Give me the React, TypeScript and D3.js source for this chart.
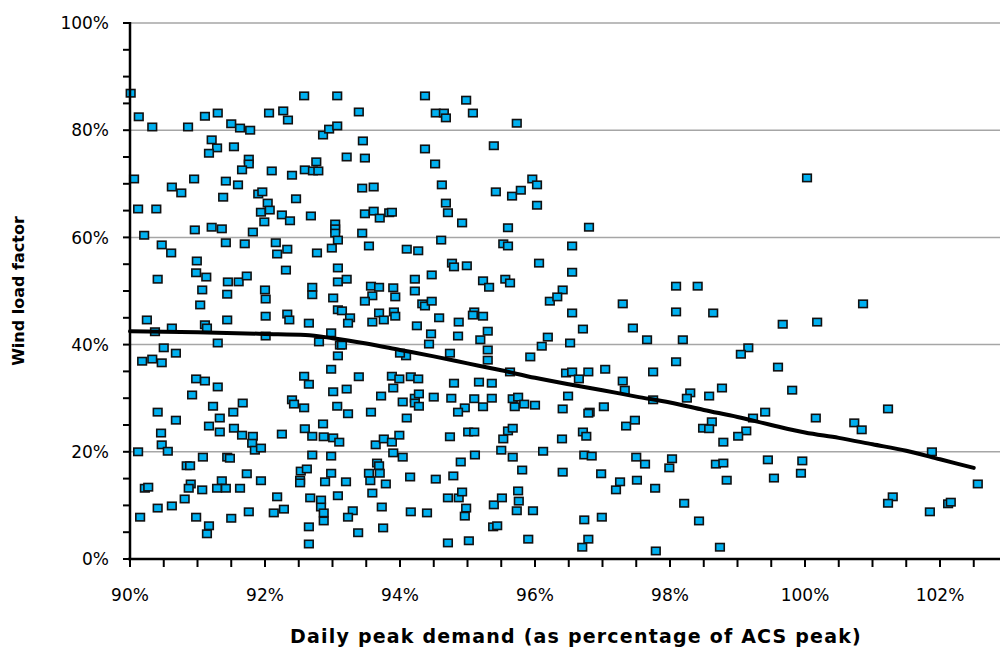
import * as d3 from 'd3';

const width = 1000;
const height = 648;

// axis ticks
const yLabelValues = [0, 20, 40, 60, 80, 100];
const yLabels = ['0%', '20%', '40%', '60%', '80%', '100%'];
const xLabelValues = [90, 92, 94, 96, 98, 100, 102];
const xLabels = ['90%', '92%', '94%', '96%', '98%', '100%', '102%'];

// daily peak demand, % of ACS peak
const demand = [
  90.01, 90.13, 90.33, 90.86, 91.11, 91.3, 91.5, 91.63, 91.78, 92.06, 92.27, 92.34, 92.58, 93.07, 92.86, 92.95,
  93.07, 91.21, 91.29, 91.17, 91.54, 91.76, 91.76, 91.66, 92.1, 92.4, 92.59, 92.76, 92.71, 92.79, 90.06, 90.62,
  90.76, 90.95, 91.42, 91.6, 91.38, 91.9, 91.96, 92.04, 91.94, 92.07, 92.46, 90.12, 90.39, 92.25, 92.37, 92.68,
  91.99, 90.21, 90.96, 91.21, 91.36, 91.82, 93.04, 93.04, 93.04, 93.08, 90.47, 90.61, 91.42, 91.7, 92.16, 92.18,
  92.33, 92.77, 92.99, 90.99, 90.98, 91.13, 90.41, 91.45, 91.61, 91.73, 92.31, 93.08, 93.08, 92.7, 91.07, 92.0,
  92.7, 91.44, 92.01, 93.01, 91.04, 90.25, 91.44, 92.01, 92.33, 92.36, 92.65, 93.08, 90.62, 91.11, 91.14, 90.37,
  92.01, 91.3, 92.8, 92.98, 93.11, 90.5, 90.68, 90.18, 90.33, 90.47, 93.08, 92.98, 90.98, 91.11, 91.3, 92.58,
  92.65, 93.01, 90.92, 91.23, 91.67, 92.4, 92.43, 92.58, 93.07, 90.41, 90.68, 91.33, 91.53, 91.17, 91.33, 91.54,
  91.66, 91.82, 91.81, 91.85, 91.94, 92.25, 92.59, 92.7, 92.86, 92.87, 93.01, 93.1, 90.46, 90.47, 90.56, 90.12,
  91.08, 91.44, 91.48, 92.7, 92.98, 90.84, 90.89, 92.53, 92.62, 92.98, 91.73, 92.52, 92.52, 91.94, 91.36, 90.9,
  90.87, 91.07, 91.29, 91.42, 91.63, 92.89, 90.22, 90.27, 93.08, 92.18, 92.67, 92.83, 92.83, 92.87, 92.87, 90.81,
  90.62, 90.41, 92.28, 92.13, 91.76, 90.15, 90.98, 91.5, 91.17, 91.14, 92.65, 92.65,
  93.39, 94.37, 94.98, 94.53, 94.65, 94.68, 95.08, 95.73, 93.45, 93.21, 93.48, 94.37, 94.52, 95.39, 94.62, 94.68,
  94.71, 94.92, 93.44, 93.61, 93.48, 93.61, 93.7, 93.84, 93.88, 95.42, 95.66, 95.79, 95.96, 96.03, 96.03, 95.6,
  93.44, 93.54, 94.1, 94.27, 94.61, 95.53, 95.6, 93.21, 94.77, 94.8, 94.99, 96.06, 94.22, 94.47, 95.23, 95.32,
  95.56, 95.63, 93.57, 93.69, 93.9, 94.22,
  93.93, 93.59, 93.48, 94.33, 94.37, 94.47, 96.22, 93.14, 93.26, 93.23, 93.69, 93.59, 93.76, 93.91, 93.93, 94.25,
  94.58, 94.87, 95.1, 95.08, 95.23, 93.14, 94.46, 94.43, 94.86, 95.3, 95.19, 95.3, 95.3, 94.74, 94.09, 94.0,
  95.93, 96.1, 96.19, 95.63, 93.39, 93.88, 93.99, 94.16, 94.27, 94.8, 95.17, 95.36, 93.9, 93.21, 93.72, 94.04,
  94.22, 94.28, 94.22, 94.28, 94.5, 94.76, 95.1, 95.36, 95.67, 95.75, 95.7, 95.84, 96.0, 94.96, 94.86, 95.23,
  93.23, 93.57, 94.1, 93.64, 93.76, 93.88, 93.99, 93.9, 94.04, 94.74, 95.01, 95.1, 95.53, 95.6, 95.67, 95.11,
  95.5, 95.67, 96.12, 93.66, 93.69, 93.7, 93.54, 93.56, 93.79, 94.15, 94.53, 94.79, 94.9, 95.81, 93.2, 93.59,
  93.73, 93.3, 93.23, 94.16, 94.4, 94.71, 94.87, 94.92, 94.98, 94.96, 95.39, 95.51, 95.75, 95.76, 95.73, 95.97,
  93.38, 93.75, 95.38, 95.44, 94.71, 95.02, 95.9,
  96.8, 96.55, 96.55, 96.41, 98.09, 98.41, 96.33, 97.3, 96.55, 98.09, 98.64, 96.71, 97.45, 96.52, 97.66, 98.19,
  99.16, 99.05, 98.09, 96.46, 96.55, 96.79, 96.65, 97.04, 97.75, 97.3, 97.33, 96.49, 98.3, 98.25, 98.58, 98.77,
  97.75, 96.41, 96.81, 96.79, 97.02, 99.41, 99.23, 97.35, 97.48, 96.71, 96.76, 96.4, 98.62, 98.49, 98.58, 99.13,
  99.01, 98.79, 96.73, 96.84, 97.5, 97.63, 98.03, 97.99, 98.68, 98.79, 99.45, 96.41, 96.98, 97.26, 97.2, 97.51,
  97.78, 98.84, 98.21, 96.73, 96.99, 98.43, 96.79, 96.7, 97.79, 98.74,
  100.03, 99.67, 100.18, 100.86, 99.6, 99.81, 100.16, 100.73, 100.84, 101.23, 99.54, 99.96, 99.94, 101.3, 101.23,
  101.88, 101.85, 102.12, 102.16, 102.56,
];

// wind load factor, %
const windLoad = [
  86.9, 82.5, 80.6, 80.6, 82.6, 83.2, 81.2, 80.4, 80.0, 83.2, 83.6, 81.9, 86.4, 86.4, 79.1, 80.2,
  80.8, 78.2, 76.7, 75.7, 76.9, 74.6, 73.7, 72.6, 72.4, 71.6, 72.6, 74.1, 72.4, 72.4, 70.9, 69.4,
  68.3, 70.9, 70.5, 69.8, 67.5, 68.1, 68.5, 66.4, 64.7, 65.1, 67.2, 65.3, 65.3, 64.2, 63.1, 64.0,
  62.9, 60.4, 61.4, 61.9, 61.6, 61.0, 62.5, 61.6, 60.8, 59.5, 58.6, 57.1, 59.0, 58.8, 59.0, 56.9,
  57.8, 57.1, 58.0, 55.6, 53.4, 52.6, 52.2, 51.7, 51.7, 52.8, 53.9, 54.3, 51.7, 50.7, 50.2, 50.2,
  49.3, 49.4, 48.5, 48.7, 47.4, 44.6, 44.6, 45.3, 45.7, 44.6, 44.0, 46.5, 43.1, 43.7, 43.1, 42.4,
  41.6, 40.3, 40.5, 42.2, 39.9, 39.4, 38.4, 36.9, 37.3, 36.6, 37.9, 35.4, 33.6, 33.2, 32.1, 34.1,
  32.6, 31.2, 30.6, 28.5, 29.1, 29.7, 28.9, 28.2, 28.5, 27.4, 25.9, 26.3, 27.4, 24.8, 23.7, 24.4,
  23.1, 22.9, 21.6, 20.3, 20.7, 23.3, 24.3, 22.9, 25.2, 22.8, 22.6, 21.8, 23.5, 21.3, 20.1, 20.0,
  19.0, 19.0, 18.8, 19.4, 19.2, 17.4, 17.4, 16.4, 16.8, 16.0, 15.9, 14.7, 14.2, 14.6, 14.6, 14.0,
  13.2, 12.9, 13.2, 13.2, 13.2, 14.4, 13.2, 13.4, 11.8, 11.6, 11.4, 11.0, 9.7, 8.6, 7.1, 11.2,
  9.9, 9.5, 9.3, 8.6, 8.8, 7.8, 7.8, 7.6, 6.2, 4.7, 6.0, 2.8,
  83.4, 86.4, 85.6, 83.2, 83.2, 82.3, 83.2, 81.3, 78.0, 75.0, 74.8, 76.5, 73.7, 77.1, 69.8, 66.4,
  64.6, 62.7, 69.2, 69.4, 64.4, 64.9, 63.6, 64.6, 64.7, 68.5, 67.7, 68.8, 70.9, 69.8, 66.0, 61.8,
  60.8, 58.4, 57.8, 57.5, 59.5, 58.8, 58.4, 52.2, 55.2, 54.5, 54.7, 55.2, 52.2, 53.0, 51.9, 50.7,
  52.2, 51.5, 50.9, 50.7, 50.6, 50.0,
  48.9, 49.1, 48.1, 47.6, 47.2, 48.1, 48.1, 46.3, 45.0, 44.0, 45.9, 44.2, 44.6, 46.1, 45.3, 43.5,
  45.0, 44.2, 46.1, 45.5, 45.3, 39.9, 42.0, 40.1, 41.6, 42.5, 40.9, 39.0, 37.1, 38.4, 37.9, 38.4,
  37.7, 39.7, 41.4, 34.9, 34.0, 34.1, 33.6, 34.0, 33.6, 32.8, 33.0, 32.8, 31.9, 31.7, 30.4, 29.3,
  30.0, 30.8, 29.1, 28.5, 30.2, 30.0, 29.9, 30.0, 29.9, 30.2, 28.4, 28.9, 28.7, 28.2, 27.4, 28.4,
  27.1, 27.4, 26.3, 21.3, 22.4, 21.8, 23.1, 19.8, 19.0, 22.8, 23.7, 23.7, 22.4, 23.9, 24.4, 19.4,
  20.3, 19.0, 20.1, 17.9, 17.4, 16.0, 16.0, 14.6, 14.0, 15.3, 14.9, 15.5, 18.1, 16.6, 14.4, 12.3,
  9.7, 9.0, 7.8, 8.8, 8.6, 11.4, 11.4, 12.5, 9.5, 8.0, 10.1, 11.4, 12.7, 10.8, 9.0, 9.0,
  4.9, 5.8, 6.0, 6.2, 3.0, 3.4, 3.7,
  61.9, 58.4, 53.5, 50.2, 50.9, 50.9, 48.9, 47.6, 45.9, 46.1, 45.9, 42.9, 43.1, 40.3, 40.9, 40.9,
  39.4, 38.2, 36.8, 34.7, 34.9, 34.9, 33.6, 35.4, 34.9, 33.2, 31.5, 30.4, 31.0, 30.0, 30.4, 31.9,
  29.7, 28.0, 27.4, 27.2, 28.4, 27.4, 26.3, 24.8, 25.9, 23.7, 22.9, 22.4, 25.6, 24.4, 24.3, 23.9,
  22.9, 21.8, 19.4, 19.2, 19.0, 17.7, 18.7, 17.0, 17.7, 17.9, 18.5, 16.2, 15.9, 14.4, 12.9, 14.7,
  13.2, 14.7, 10.4, 7.3, 7.8, 7.1, 3.7, 2.2, 1.5, 2.2,
  71.1, 43.8, 44.2, 47.6, 35.8, 31.5, 26.3, 25.4, 24.1, 28.0, 15.1, 18.3, 16.0, 11.6, 10.4,
  20.0, 8.8, 10.3, 10.6, 14.0,
];

// trend line
const trendDemand = [
  90.0, 91.0, 92.0, 92.6, 93.0, 93.5, 94.0, 94.5, 95.0, 95.5, 96.0, 96.5, 97.0, 97.5, 98.0, 98.5, 99.0, 99.5,
  100.0, 100.5, 101.0, 101.5, 102.0, 102.5,
];
const trendLoad = [
  42.5, 42.3, 42.0, 41.8, 41.2, 40.2, 39.0, 37.8, 36.5, 35.2, 33.8, 32.6, 31.5, 30.3, 29.2, 27.8, 26.5, 25.0,
  23.6, 22.6, 21.4, 20.2, 18.6, 17.0,
];

const font = 'DejaVu Sans, Verdana, sans-serif';

export default function App() {
  const x = d3.scaleLinear([90, 103], [130, 1007.5]);
  const y = d3.scaleLinear([0, 100], [559, 23]);
  const line = d3.line<number>((_, i) => x(trendDemand[i]), (d) => y(d)).curve(d3.curveMonotoneX);
  const yMinor = d3.range(0, 101, 5);
  const xMinor = d3.range(90, 102.6, 0.5);
  const mw = 8.6;
  const mh = 7.4;

  return (
    <svg
      width={width}
      height={height}
      style={{ position: 'absolute', left: 0, top: 0, background: '#fff' }}
      fontFamily={font}
    >
      {yLabelValues
        .filter((v) => v > 0)
        .map((v) => (
          <line key={v} x1={130} x2={width} y1={y(v)} y2={y(v)} stroke="#a6a6a6" strokeWidth={1.5} />
        ))}

      <g>
        {demand.map((d, i) => (
          <rect
            key={i}
            x={x(d) - mw / 2}
            y={y(windLoad[i]) - mh / 2}
            width={mw}
            height={mh}
            fill="#00b0f0"
            stroke="#111"
            strokeWidth={1.6}
          />
        ))}
      </g>

      <path
        d={line(trendLoad) ?? ''}
        fill="none"
        stroke="#000"
        strokeWidth={4}
        strokeLinejoin="round"
        strokeLinecap="round"
      />

      {/* axes */}
      <line x1={130} x2={130} y1={y(100) - 1} y2={y(0) + 1} stroke="#000" strokeWidth={2.5} />
      <line x1={128} x2={width} y1={y(0)} y2={y(0)} stroke="#000" strokeWidth={2.5} />
      {yMinor.map((v) => (
        <line key={v} x1={123} x2={130} y1={y(v)} y2={y(v)} stroke="#000" strokeWidth={2} />
      ))}
      {xMinor.map((v) => (
        <line key={v} x1={x(v)} x2={x(v)} y1={y(0)} y2={y(0) + 8} stroke="#000" strokeWidth={2} />
      ))}

      {yLabelValues.map((v, i) => (
        <text key={v} x={109} y={y(v)} dy="0.36em" textAnchor="end" fontSize={17} fill="#000">
          {yLabels[i]}
        </text>
      ))}
      {xLabelValues.map((v, i) => (
        <text key={v} x={x(v)} y={601} textAnchor="middle" fontSize={17} fill="#000">
          {xLabels[i]}
        </text>
      ))}

      <text
        x={576}
        y={643}
        textAnchor="middle"
        fontSize={19}
        fontWeight="bold"
        letterSpacing={1.2}
        fill="#000"
      >
        Daily peak demand (as percentage of ACS peak)
      </text>
      <text
        transform="translate(24,291) rotate(-90)"
        textAnchor="middle"
        fontSize={16}
        fontWeight="bold"
        fill="#000"
      >
        Wind load factor
      </text>
    </svg>
  );
}
